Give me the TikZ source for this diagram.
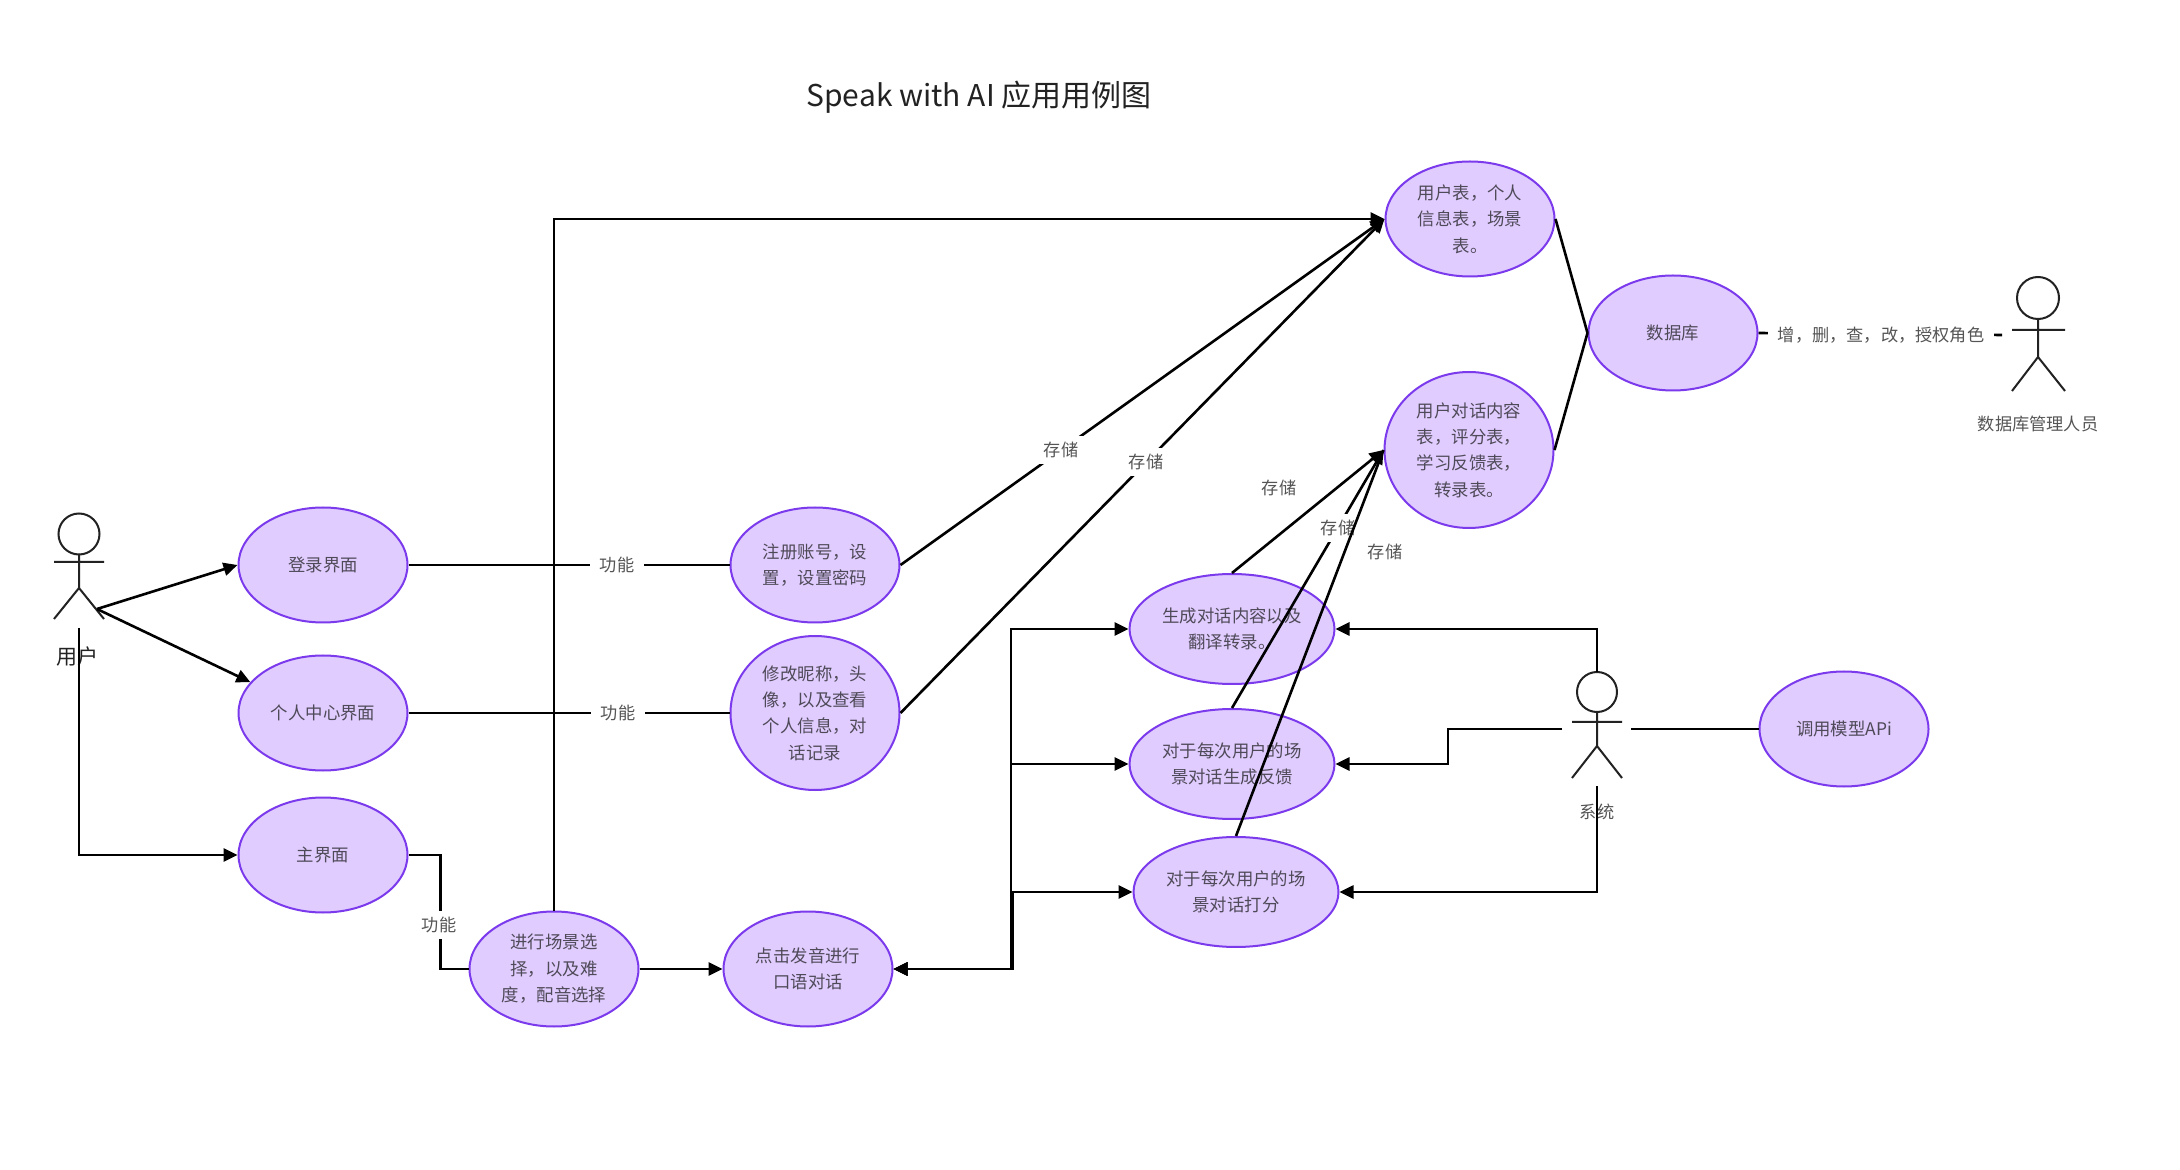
\documentclass[tikz,border=0pt]{standalone}
\usepackage{fontspec}
\setmainfont{Noto Sans CJK SC}
\usetikzlibrary{shapes.geometric,arrows.meta}
\definecolor{ucfill}{HTML}{E0CCFF}
\definecolor{ucline}{HTML}{7C3AED}
\definecolor{uctext}{HTML}{4F4A58}
\definecolor{lbltext}{HTML}{555555}
\definecolor{darktext}{HTML}{222222}
\tikzset{
  uc/.style={ellipse,draw=ucline,fill=ucfill,line width=1pt,inner sep=0pt,
    minimum width=84.5pt,minimum height=57.5pt,align=center,text=uctext,
    font=\fontsize{8.7pt}{13.2pt}\selectfont},
  ucwide/.style={uc,minimum width=102.5pt,minimum height=55pt},
  conn/.style={draw=black,line width=1.3pt},
  arr/.style={conn,-{Triangle[length=7pt,width=6.5pt]}},
  biarr/.style={conn,{Triangle[length=7pt,width=6.5pt]}-{Triangle[length=7pt,width=6.5pt]}},
  lbl/.style={fill=white,text=lbltext,inner xsep=4.8pt,inner ysep=3pt,
    font=\fontsize{8.6pt}{11pt}\selectfont},
  freelbl/.style={lbl,fill=none},
  actorlbl/.style={text=lbltext,inner sep=0pt,font=\fontsize{8.6pt}{11pt}\selectfont},
  actor/.style={draw=darktext,line width=1pt,fill=none}
}
\begin{document}
\begin{tikzpicture}[x=0.5pt,y=-0.5pt]
\useasboundingbox (0,0) rectangle (2180,1170);
\fill[white] (0,0) rectangle (2180,1170);

\node[text=darktext,font=\fontsize{15pt}{18pt}\selectfont] (title) at (979,97) {Speak with AI 应用用例图};

% use cases
\node[uc] (login) at (323,565) {登录界面};
\node[uc] (center) at (323,713) {个人中心界面};
\node[uc] (home) at (323,855) {主界面};
\node[uc] (scene) at (554,969) {进行场景选\\择，以及难\\度，配音选择};
\node[uc] (speak) at (808,969) {点击发音进行\\口语对话};
\node[uc] (reg) at (815,565) {注册账号，设\\置，设置密码};
\node[uc,minimum height=77pt] (edit) at (815,713) {修改昵称，头\\像，以及查看\\个人信息，对\\话记录};
\node[uc] (tabA) at (1470,219) {用户表，个人\\信息表，场景\\表。};
\node[uc,minimum height=78pt] (tabB) at (1469,450) {用户对话内容\\表，评分表，\\学习反馈表，\\转录表。};
\node[uc] (db) at (1673,333) {数据库};
\node[uc] (api) at (1844,729) {调用模型APi};
\node[ucwide] (gen) at (1232,629) {生成对话内容以及\\翻译转录。};
\node[ucwide] (fb) at (1232,764) {对于每次用户的场\\景对话生成反馈};
\node[ucwide] (score) at (1236,892) {对于每次用户的场\\景对话打分};

% actor: user
\draw[actor] (79,534) circle (20.5);
\draw[actor] (79,554) -- (79,588) (54,562) -- (104,562) (54,619) -- (79,588) -- (104,619);
\node[text=darktext,inner sep=0pt,font=\fontsize{10.5pt}{13pt}\selectfont] (userlbl) at (77,657) {用户};
\coordinate (userA) at (97,609);
\coordinate (userB) at (79,628);
% actor: admin
\draw[actor] (2038,298) circle (21);
\draw[actor] (2038,319) -- (2038,357) (2012,330) -- (2065,330) (2012,391) -- (2038,357) -- (2065,391);
\node[actorlbl] (adminlbl) at (2038,424) {数据库管理人员};
\coordinate (adminA) at (2002,335);
% actor: system
\draw[actor] (1597,692) circle (20);
\draw[actor] (1597,712) -- (1597,746) (1572,722) -- (1622,722) (1572,778) -- (1597,746) -- (1622,778);
\node[actorlbl] (syslbl) at (1597,812) {系统};
\coordinate (sysTop) at (1597,672);
\coordinate (sysL) at (1562,729);
\coordinate (sysR) at (1631,729);
\coordinate (sysB) at (1597,786);

% connectors
\draw[arr] (userA) -- (login.west);
\draw[arr] (userA) -- (center.157);
\draw[arr] (userB) |- (home.west);
\draw[conn] (login.east) -- (reg.west);
\draw[conn] (center.east) -- (edit.west);
\draw[conn] (home.east) -- ++(32,0) |- (scene.west);
\draw[arr] (scene.east) -- (speak.west);
\draw[arr] (scene.north) |- (tabA.west);
\draw[arr] (reg.east) -- (tabA.west);
\draw[arr] (edit.east) -- (tabA.west);
\draw[conn] (tabA.east) -- (db.west);
\draw[conn] (tabB.east) -- (db.west);
\draw[conn] (db.east) -- (adminA);
\draw[arr] (gen.north) -- (tabB.west);
\draw[arr] (fb.north) -- (tabB.west);
\coordinate (busA) at (1011,969);
\coordinate (busB) at (1013,969);
\draw[biarr] (speak.east) -- (busA) |- (gen.west);
\draw[biarr] (speak.east) -- (busA) |- (fb.west);
\draw[biarr] (speak.east) -- (busB) |- (score.west);
\draw[arr] (sysTop) |- (gen.east);
\draw[arr] (sysL) -- ++(-114,0) |- (fb.east);
\draw[arr] (sysB) |- (score.east);
\draw[conn] (sysR) -- (api.west);

% labels on connectors
\node[lbl] (l1) at (617,565) {功能};
\node[lbl] (l2) at (618,713) {功能};
\node[lbl] (l3) at (439,925) {功能};
\node[lbl] (l4) at (1061,450) {存储};
\node[lbl] (l5) at (1146,462) {存储};
\node[freelbl] (l6) at (1279,488) {存储};
\node[lbl] (l7) at (1338,528) {存储};
\draw[conn] (score.north) -- (tabB.west);
\node[freelbl] (l8) at (1385,552) {存储};
\node[lbl] (l9) at (1881,335) {增，删，查，改，授权角色};
\end{tikzpicture}
\end{document}
